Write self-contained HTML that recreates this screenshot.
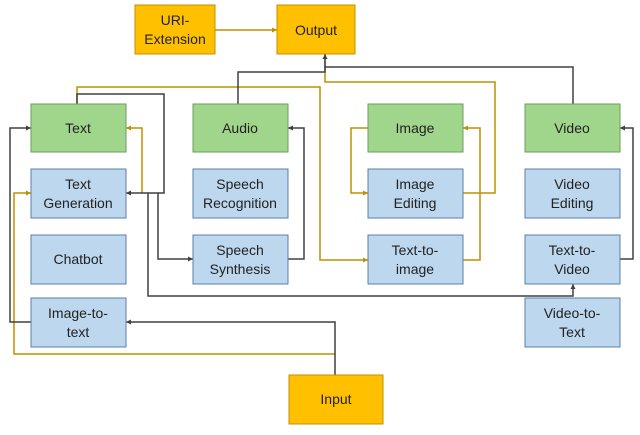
<!DOCTYPE html>
<html><head><meta charset="utf-8"><style>
body{margin:0;background:#fff;width:640px;height:430px;overflow:hidden}
svg text{font-family:"Liberation Sans","Noto Sans CJK SC",sans-serif;font-size:14px;fill:#222;text-anchor:middle}
</style></head><body>
<svg width="640" height="430" viewBox="0 0 640 430">
<defs>
<marker id="d" markerWidth="6" markerHeight="6" refX="5" refY="3" orient="auto" markerUnits="userSpaceOnUse"><path d="M0,0.5 L5,3 L0,5.5z" fill="#404040"/></marker>
<marker id="g" markerWidth="6" markerHeight="6" refX="5" refY="3" orient="auto" markerUnits="userSpaceOnUse"><path d="M0,0.5 L5,3 L0,5.5z" fill="#BF9000"/></marker>
</defs>
<g fill="none" stroke-width="1.5">
<!-- gold -->
<g stroke="#BF9000">
<path d="M215,30 H277" marker-end="url(#g)"/>
<path d="M77,104 V87 H320 V260 H368" marker-end="url(#g)"/>
<path d="M325,54 V82 H495 V193 H463"/>
<path d="M368,128 H351 V193 H368" marker-end="url(#g)"/>
<path d="M463,260 H480 V128 H463" marker-end="url(#g)"/>
<path d="M142,193 V128 H126" marker-end="url(#g)"/>
<path d="M335,354 H14 V193 H31" marker-end="url(#g)"/>
</g>
<g stroke="#404040">
<path d="M238,104 V72 H325 V67 H573 V104"/>
<path d="M325,67 V54" marker-end="url(#d)"/>
<path d="M77,104 V94 H164 V193 H126" marker-end="url(#d)"/>
<path d="M158,193 V259 H193" marker-end="url(#d)"/>
<path d="M148,193 V296 H573 V284" marker-end="url(#d)"/>
<path d="M288,259 H304 V128 H288" marker-end="url(#d)"/>
<path d="M620,259 H633 V128 H620" marker-end="url(#d)"/>
<path d="M31,322 H10 V128 H31" marker-end="url(#d)"/>
<path d="M335,375 V322 H126" marker-end="url(#d)"/>
</g>
</g>
<g stroke-width="1">
<rect x="135" y="5" width="80" height="49" fill="#FFC000" stroke="#C09000"/>
<rect x="277" y="5" width="78" height="49" fill="#FFC000" stroke="#C09000"/>
<rect x="289" y="375" width="94" height="49" fill="#FFC000" stroke="#C09000"/>
<g fill="#A0D68B" stroke="#6E9E5C">
<rect x="31" y="104" width="95" height="48"/><rect x="193" y="104" width="95" height="48"/>
<rect x="368" y="104" width="95" height="48"/><rect x="525" y="104" width="95" height="48"/>
</g>
<g fill="#BDD7EE" stroke="#5B7FA6">
<rect x="31" y="169" width="95" height="49"/><rect x="193" y="169" width="95" height="49"/>
<rect x="368" y="169" width="95" height="49"/><rect x="525" y="169" width="95" height="49"/>
<rect x="31" y="235" width="95" height="49"/><rect x="193" y="235" width="95" height="49"/>
<rect x="368" y="235" width="95" height="49"/><rect x="525" y="235" width="95" height="49"/>
<rect x="31" y="298" width="95" height="49"/><rect x="525" y="298" width="95" height="49"/>
</g>
</g>
<text x="175" y="25">URI-</text><text x="175" y="44">Extension</text>
<text x="316" y="35">Output</text>
<text x="336" y="404">Input</text>
<text x="78" y="133">Text</text><text x="240" y="133">Audio</text><text x="415" y="133">Image</text><text x="572" y="133">Video</text>
<text x="78" y="189">Text</text><text x="78" y="208">Generation</text>
<text x="240" y="189">Speech</text><text x="240" y="208">Recognition</text>
<text x="415" y="189">Image</text><text x="415" y="208">Editing</text>
<text x="572" y="189">Video</text><text x="572" y="208">Editing</text>
<text x="78" y="264">Chatbot</text>
<text x="240" y="255">Speech</text><text x="240" y="274">Synthesis</text>
<text x="415" y="255">Text-to-</text><text x="415" y="274">image</text>
<text x="572" y="255">Text-to-</text><text x="572" y="274">Video</text>
<text x="78" y="318">Image-to-</text><text x="78" y="337">text</text>
<text x="572" y="318">Video-to-</text><text x="572" y="337">Text</text>
</svg>
</body></html>
